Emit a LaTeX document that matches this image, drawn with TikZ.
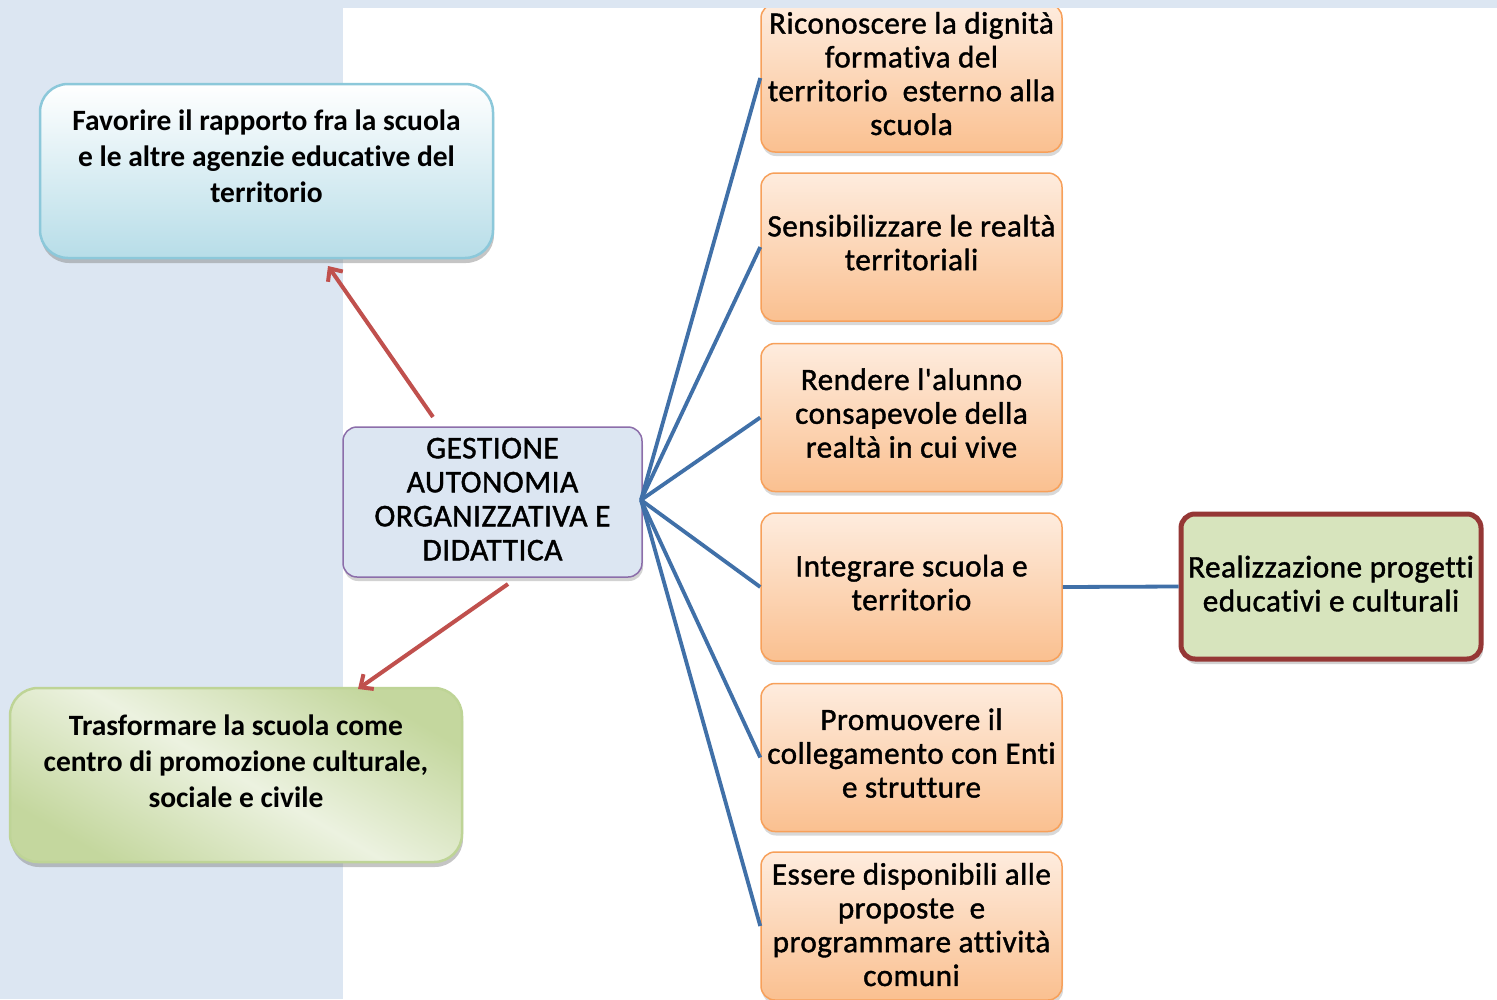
\documentclass[tikz,border=0pt]{standalone}
\usepackage{fontspec}
\setmainfont[Ligatures=NoCommon]{Carlito}
\newfontfamily\semib[FakeBold=1.3,LetterSpace=1.6,Ligatures=NoCommon]{Carlito}
\usetikzlibrary{shadows,arrows.meta}
\definecolor{bgblue}{RGB}{220,230,242}
\definecolor{orangetop}{RGB}{254,236,222}
\definecolor{orangebot}{RGB}{250,192,144}
\definecolor{orangeline}{RGB}{247,160,90}
\definecolor{bluetop}{RGB}{255,255,255}
\definecolor{bluebot}{RGB}{183,221,232}
\definecolor{blueline}{RGB}{140,200,218}
\definecolor{greenA}{RGB}{196,215,158}
\definecolor{greenB}{RGB}{236,242,224}
\definecolor{greenline}{RGB}{190,212,150}
\definecolor{centerfill}{RGB}{220,230,242}
\definecolor{purpleline}{RGB}{140,110,170}
\definecolor{rightfill}{RGB}{215,228,189}
\definecolor{darkred}{RGB}{149,55,53}
\definecolor{connblue}{RGB}{64,112,168}
\definecolor{arrowred}{RGB}{192,80,77}
\newcommand\mltext[2]{\raisebox{#1}[\height][\depth]{\begin{tabular}{@{}c@{}}#2\end{tabular}}}
\begin{document}
\begin{tikzpicture}[x=1pt,y=-1pt,
  orangebox/.style={draw=orangeline, line width=1.5pt, rounded corners=14pt,
    top color=orangetop, bottom color=orangebot,
    minimum width=301pt, minimum height=148pt, inner sep=0pt,
    font=\semib\fontsize{31.1}{33.8}\selectfont,
    drop shadow={shadow xshift=1pt, shadow yshift=-4pt, opacity=0.3}},
  conn/.style={draw=connblue, line width=3.8pt},
  redarrow/.style={draw=arrowred, line width=4pt, -{Straight Barb[length=10pt,width=18pt,line width=4pt]}},
  bigbox/.style={line width=2.5pt, rounded corners=28pt, inner sep=0pt,
    minimum height=174pt, font=\fontsize{29.5}{35.8}\selectfont\bfseries,
    drop shadow={shadow xshift=1pt, shadow yshift=-5pt, opacity=0.45}}
]
\useasboundingbox (0,0) rectangle (1497,999);
\fill[bgblue] (0,0) rectangle (1497,999);
\fill[white] (343,8) rectangle (1497,999);

% left boxes
\node[bigbox, draw=blueline, top color=bluetop, bottom color=bluebot,
  minimum width=453pt] (fav) at (266.5,171)
  {\mltext{11.5pt}{Favorire il rapporto fra la scuola\\e le altre agenzie educative del\\territorio}};

\node[bigbox, draw=greenline,
  top color=greenA, bottom color=greenA, middle color=greenB, shading angle=-30,
  minimum width=452pt] (tras) at (236,775)
  {\mltext{10.5pt}{Trasformare la scuola come\\centro di promozione culturale,\\sociale e civile}};

% center
\node[draw=purpleline, line width=1.5pt, fill=centerfill, rounded corners=14pt,
  minimum width=299pt, minimum height=150pt, inner sep=0pt,
  font=\semib\fontsize{31.5}{34}\selectfont,
  drop shadow={shadow xshift=1pt, shadow yshift=-4pt, opacity=0.35}] (gest) at (492.5,502)
  {\mltext{-0.5pt}{GESTIONE\\AUTONOMIA\\ORGANIZZATIVA E\\DIDATTICA}};

% orange boxes
\node[orangebox] (o1) at (911.5,78) {\mltext{0.5pt}{Riconoscere la dignità\\formativa del\\territorio \ esterno alla\\scuola}};
\node[orangebox] (o2) at (911.5,247) {\mltext{0.5pt}{Sensibilizzare le realtà\\territoriali}};
\node[orangebox] (o3) at (911.5,417.5) {\mltext{0.5pt}{Rendere l\char"27 alunno\\consapevole della\\realtà in cui vive}};
\node[orangebox] (o4) at (911.5,587) {\mltext{0.5pt}{Integrare scuola e\\territorio}};
\node[orangebox] (o5) at (911.5,757.5) {\mltext{0.5pt}{Promuovere il\\collegamento con Enti\\e strutture}};
\node[orangebox] (o6) at (911.5,926) {\mltext{-2.5pt}{Essere disponibili alle\\proposte \ e\\programmare attività\\comuni}};

% right green
\node[draw=darkred, line width=5pt, fill=rightfill, rounded corners=14pt,
  minimum width=300pt, minimum height=145pt, inner sep=0pt,
  font=\semib\fontsize{31.2}{34}\selectfont,
  drop shadow={shadow xshift=2pt, shadow yshift=-5pt, opacity=0.35}] (real) at (1331,586.5)
  {\mltext{-1pt}{Realizzazione progetti\\educativi e culturali}};

% top strip over box 1
\fill[bgblue] (343,0) rectangle (1497,8);

% connectors
\coordinate (hub) at (641,500);
\foreach \n in {o1,o2,o3,o4,o5,o6} \draw[conn] (hub) -- (\n.west);
\draw[conn] (o4.east) -- (real.west);

\coordinate (a1s) at (433,417);
\coordinate (a1e) at (328,266);
\coordinate (a2s) at (508,584);
\coordinate (a2e) at (358,689);
\draw[redarrow] (a1s) -- (a1e);
\draw[redarrow] (a2s) -- (a2e);
\end{tikzpicture}
\end{document}
